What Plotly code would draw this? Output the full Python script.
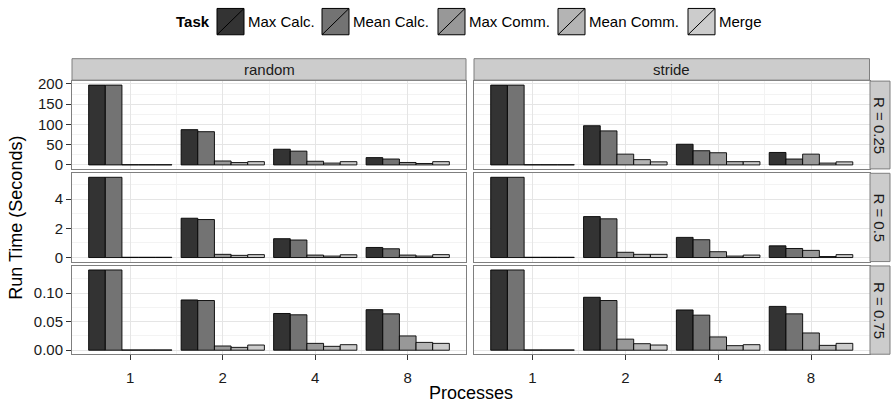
import plotly.graph_objects as go

# ---------------- data ----------------
processes = ["1", "2", "4", "8"]
tasks = ["Max Calc.", "Mean Calc.", "Max Comm.", "Mean Comm.", "Merge"]
modes = ["random", "stride"]
r_labels = ["R = 0.25", "R = 0.5", "R = 0.75"]

# each list: one row per task (Max Calc., Mean Calc., Max Comm., Mean Comm., Merge), values for 1,2,4,8 processes
random_r025 = [[197, 87, 38.7, 18], [197, 82, 34, 14.5], [0.5, 9.7, 9, 6], [0.5, 5.8, 4.5, 3.5], [0.5, 8, 8, 8]]
stride_r025 = [[197, 96.7, 51, 30.7], [197, 84, 35, 14.5], [0.5, 26.6, 30, 26.6], [0.5, 13, 8, 4.5], [0.5, 7.5, 8, 7.5]]
random_r05 = [[5.49, 2.69, 1.29, 0.69], [5.49, 2.6, 1.2, 0.6], [0.02, 0.22, 0.17, 0.17], [0.02, 0.15, 0.1, 0.1], [0.02, 0.2, 0.19, 0.2]]
stride_r05 = [[5.49, 2.8, 1.38, 0.8], [5.49, 2.65, 1.22, 0.62], [0.02, 0.36, 0.4, 0.49], [0.02, 0.22, 0.1, 0.07], [0.02, 0.22, 0.17, 0.2]]
random_r075 = [[0.1405, 0.088, 0.0643, 0.071], [0.1405, 0.087, 0.062, 0.0637], [0.0005, 0.0074, 0.012, 0.025], [0.0005, 0.005, 0.0068, 0.0137], [0.0005, 0.0091, 0.0097, 0.012]]
stride_r075 = [[0.1405, 0.0927, 0.0705, 0.0767], [0.1405, 0.087, 0.0614, 0.0637], [0.0005, 0.0194, 0.0233, 0.0302], [0.0005, 0.0114, 0.008, 0.0085], [0.0005, 0.0091, 0.0097, 0.012]]

panels = [[random_r025, stride_r025], [random_r05, stride_r05], [random_r075, stride_r075]]

row_ticks = [[0, 50, 100, 150, 200], [0, 2, 4], [0, 0.05, 0.10]]
row_minor = [[25, 75, 125, 175], [1, 3, 5], [0.025, 0.075, 0.125]]
row_fmt = ["d", "d", ".2f"]

fills = ["#333333", "#737373", "#989898", "#B4B4B4", "#CCCCCC"]

# ---------------- layout geometry (pixels) ----------------
W, H = 891, 407
def px(x):
    return x / W
def py(y):
    return 1 - y / H

cols = [(72, 466), (474, 869.5)]
rows = [(77, 167), (171.5, 262), (266.5, 357)]
FONT = "Liberation Sans, Arial, sans-serif"
TXT = 15
xpos = [1, 2, 3, 4]

fig = go.Figure()
layout = dict(
    width=W, height=H, margin=dict(l=0, r=0, t=0, b=0),
    paper_bgcolor="white", plot_bgcolor="white",
    barmode="group", bargap=0.1, bargroupgap=0,
    showlegend=False, font=dict(family=FONT, size=TXT, color="#1a1a1a"),
)
shapes = []
annotations = []

for r in range(3):
    vmax = max(max(v) for c in range(2) for v in panels[r][c])
    yr = [-0.05 * vmax, vmax * 1.05]
    for c in range(2):
        k = r * 2 + c + 1
        data = panels[r][c]
        for t in range(5):
            fig.add_trace(go.Bar(
                x=xpos, y=data[t], name=tasks[t],
                marker=dict(color=fills[t], line=dict(color="black", width=0.9)),
                xaxis=f"x{k}", yaxis=f"y{k}", hoverinfo="skip",
            ))
        xname = "xaxis" if k == 1 else f"xaxis{k}"
        yname = "yaxis" if k == 1 else f"yaxis{k}"
        layout[xname] = dict(
            domain=[px(cols[c][0]), px(cols[c][1])], anchor=f"y{k}",
            range=[0.37, 4.63], tickmode="array", tickvals=xpos, ticktext=processes,
            showgrid=True, gridcolor="#e5e5e5", gridwidth=1,
            minor=dict(tickmode="array", tickvals=[1.5, 2.5, 3.5], showgrid=True, gridcolor="#f3f3f3", ticks=""),
            showline=True, mirror=True, linecolor="#7f7f7f", linewidth=1,
            zeroline=False, fixedrange=True,
            ticks="outside" if r == 2 else "", ticklen=5, tickcolor="#333333",
            ticklabelstandoff=5,
            showticklabels=(r == 2), tickfont=dict(size=TXT, color="#1a1a1a"),
        )
        layout[yname] = dict(
            domain=[py(rows[r][1]), py(rows[r][0])], anchor=f"x{k}",
            range=yr, tickmode="array", tickvals=row_ticks[r], tickformat=row_fmt[r],
            showgrid=True, gridcolor="#e5e5e5", gridwidth=1,
            minor=dict(tickmode="array", tickvals=row_minor[r], showgrid=True, gridcolor="#f3f3f3", ticks=""),
            showline=True, mirror=True, linecolor="#7f7f7f", linewidth=1,
            zeroline=False, fixedrange=True,
            ticks="outside" if c == 0 else "", ticklen=5, tickcolor="#333333",
            showticklabels=(c == 0), tickfont=dict(size=TXT, color="#1a1a1a"),
        )

# top strips
for c in range(2):
    shapes.append(dict(type="rect", xref="paper", yref="paper",
                       x0=px(cols[c][0]), x1=px(cols[c][1]), y0=py(76), y1=py(54),
                       fillcolor="#cccccc", line=dict(color="#7f7f7f", width=1)))
    annotations.append(dict(xref="paper", yref="paper", x=px((cols[c][0] + cols[c][1]) / 2), y=py(65),
                            text=modes[c], showarrow=False, xanchor="center", yanchor="middle",
                            font=dict(size=TXT, color="#1a1a1a")))
# right strips
for r in range(3):
    shapes.append(dict(type="rect", xref="paper", yref="paper",
                       x0=px(870), x1=px(890), y0=py(rows[r][1]), y1=py(rows[r][0]),
                       fillcolor="#cccccc", line=dict(color="#7f7f7f", width=1)))
    annotations.append(dict(xref="paper", yref="paper", x=px(880), y=py((rows[r][0] + rows[r][1]) / 2),
                            text=r_labels[r], showarrow=False, textangle=90, xanchor="center", yanchor="middle",
                            font=dict(size=TXT, color="#1a1a1a")))

# axis titles
annotations.append(dict(xref="paper", yref="paper", x=px(471), y=py(397),
                        text="Processes", showarrow=False, xanchor="center", yanchor="middle",
                        font=dict(size=18, color="black")))
annotations.append(dict(xref="paper", yref="paper", x=px(16), y=py(217),
                        text="Run Time (Seconds)", showarrow=False, textangle=-90, xanchor="center", yanchor="middle",
                        font=dict(size=18, color="black")))

# manual legend (ggplot style keys with slash)
annotations.append(dict(xref="paper", yref="paper", x=px(212), y=py(16),
                        text="<b>Task</b>", showarrow=False, xanchor="right", yanchor="middle",
                        font=dict(size=TXT, color="black")))
key_x = [217, 322, 438, 558, 688]
ky0, ky1 = 2.5, 29.5
kw = 27
for t in range(5):
    x0 = key_x[t]
    shapes.append(dict(type="rect", xref="paper", yref="paper",
                       x0=px(x0), x1=px(x0 + kw), y0=py(ky1), y1=py(ky0),
                       fillcolor=fills[t], line=dict(color="black", width=1)))
    shapes.append(dict(type="line", xref="paper", yref="paper",
                       x0=px(x0), x1=px(x0 + kw), y0=py(ky1), y1=py(ky0),
                       line=dict(color="black", width=1)))
    annotations.append(dict(xref="paper", yref="paper", x=px(x0 + kw + 2), y=py(16),
                            text=tasks[t], showarrow=False, xanchor="left", yanchor="middle",
                            font=dict(size=TXT, color="black")))

layout["shapes"] = shapes
layout["annotations"] = annotations
fig.update_layout(**layout)
fig.write_html("out.html", config={"displayModeBar": False},
               post_script="document.body.style.margin='0px';document.body.style.padding='0px';")
